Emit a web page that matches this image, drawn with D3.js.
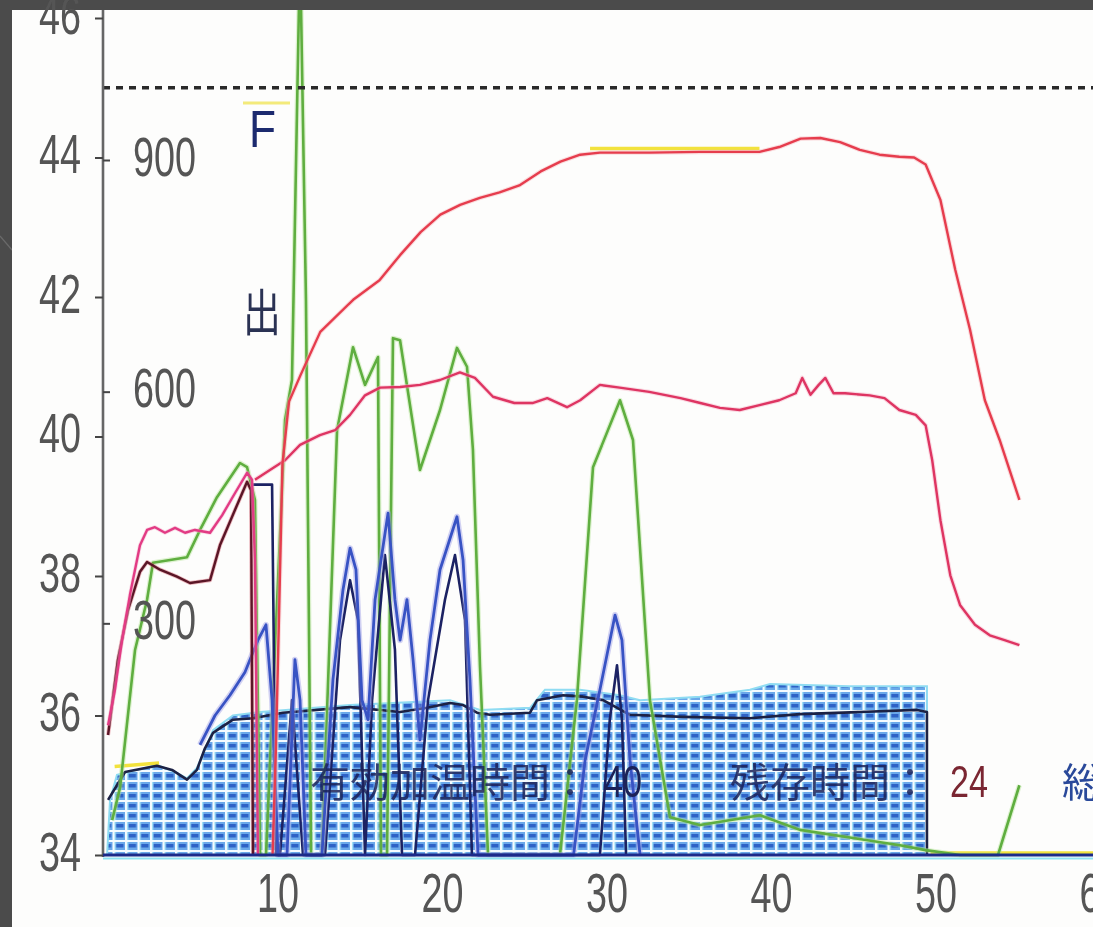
<!DOCTYPE html>
<html><head><meta charset="utf-8">
<script src="https://cdn.jsdelivr.net/npm/d3@7"></script>
<style>html,body{margin:0;padding:0;background:#4b4b4b;overflow:hidden}svg{display:block}</style>
</head><body>
<svg id="c" width="1093" height="927"></svg>
<script>
// ---------- data (time in minutes, temperature in °C, output on the inner scale) ----------
const xTicks = [10, 20, 30, 40, 50, 60];
const tempTicks = [34, 36, 38, 40, 42, 44, 46];
const outputTicks = [300, 600, 900];
const limitTemp = 45;

const redTop = [[9.7,34.0],[9.9,35.5],[10.1,37.5],[10.3,39.6],[10.7,40.5],[11.4,40.88],[12.6,41.5],[14.6,41.96],[16.2,42.24],[17.45,42.6],[18.7,42.93],[19.9,43.18],[21.1,43.32],[22.3,43.42],[23.5,43.5],[24.7,43.6],[26.0,43.8],[27.2,43.94],[28.4,44.04],[29.6,44.07],[32.6,44.07],[35.7,44.08],[39.3,44.08],[40.5,44.15],[41.8,44.27],[43.0,44.28],[44.2,44.22],[45.4,44.11],[46.6,44.04],[47.8,44.01],[48.7,44.0],[49.4,43.9],[50.3,43.39],[51.2,42.39],[52.1,41.53],[53.0,40.52],[53.9,39.95],[54.5,39.52],[55.1,39.09]];

const redLow = [[8.63,39.38],[9.54,39.52],[10.46,39.66],[11.37,39.88],[12.58,40.02],[13.5,40.09],[14.41,40.31],[15.32,40.59],[16.23,40.7],[17.45,40.71],[18.66,40.74],[19.88,40.81],[21.09,40.92],[22.0,40.84],[23.1,40.57],[24.4,40.48],[25.5,40.48],[26.4,40.55],[27.6,40.42],[28.4,40.52],[29.6,40.74],[30.8,40.7],[32.6,40.64],[34.5,40.55],[35.7,40.48],[36.9,40.41],[38.1,40.38],[39.3,40.45],[40.5,40.52],[41.5,40.62],[41.9,40.84],[42.4,40.6],[42.9,40.74],[43.3,40.84],[43.8,40.62],[44.5,40.62],[46.0,40.59],[46.9,40.55],[47.8,40.38],[48.8,40.31],[49.4,40.16],[49.8,39.66],[50.3,38.8],[50.9,38.01],[51.5,37.58],[52.4,37.3],[53.3,37.15],[54.2,37.08],[55.1,37.01]];

const pinkStart = [[-0.3,35.86],[0.12,36.37],[0.55,37.08],[1.03,37.73],[1.64,38.44],[2.07,38.66],[2.55,38.7],[3.16,38.62],[3.77,38.69],[4.38,38.62],[4.98,38.66],[5.9,38.62],[6.63,38.87],[7.42,39.19],[8.15,39.48],[8.45,39.38],[8.63,38.23],[8.81,34.0]];

const maroon = [[-0.3,35.72],[0.3,36.8],[0.91,37.51],[1.64,38.06],[2.07,38.2],[2.86,38.09],[3.89,37.99],[4.68,37.9],[5.9,37.94],[6.5,38.44],[7.42,38.95],[8.15,39.35],[8.39,39.23],[8.51,34.0]];

const green = [[-0.05,34.5],[0.43,34.97],[1.34,36.94],[2.07,37.66],[2.43,38.19],[3.47,38.23],[4.5,38.27],[5.29,38.66],[6.32,39.13],[7.72,39.62],[8.15,39.56],[8.63,39.09],[8.94,34.0],[9.3,34.0],[10.46,40.24],[10.88,40.81],[11.37,47.0],[11.73,41.96],[12.04,34.0],[12.7,34.0],[13.62,40.09],[14.59,41.28],[15.32,40.74],[16.11,41.14],[16.29,34.0],[16.66,34.0],[17.02,41.41],[17.45,41.38],[18.66,39.52],[19.88,40.38],[20.91,41.27],[21.52,41.0],[21.88,39.81],[22.31,36.7],[22.8,34.0],[27.17,34.0],[28.2,36.22],[29.18,39.56],[30.82,40.52],[31.61,39.95],[32.64,36.22],[33.86,34.54],[35.68,34.43],[39.33,34.57],[41.76,34.36],[47.84,34.14],[49.4,34.07],[51.5,34.0],[53.8,34.0],[55.1,35.0]];

const blue = [[5.29,35.58],[6.2,36.0],[7.11,36.29],[8.02,36.62],[8.81,37.08],[9.3,37.3],[9.67,36.22],[10.03,34.0],[10.58,34.0],[11.06,36.8],[11.37,36.22],[11.73,34.0],[12.7,34.0],[13.37,36.51],[13.98,37.8],[14.41,38.4],[14.77,38.09],[15.14,36.22],[15.5,35.94],[15.93,37.66],[16.72,38.9],[17.14,37.66],[17.45,37.08],[17.87,37.66],[18.24,36.8],[18.66,35.65],[19.27,37.08],[19.88,38.09],[20.91,38.85],[21.28,38.23],[21.7,36.51],[22.19,34.0],[28.0,34.0],[28.7,35.36],[29.6,36.37],[30.52,37.44],[30.94,37.08],[31.43,35.36],[32.04,34.0]];

const navy = [[8.51,39.31],[9.67,39.31],[9.91,34.0],[10.15,34.0],[10.88,36.22],[11.55,34.0],[12.89,34.0],[13.8,37.08],[14.41,37.94],[14.89,37.37],[15.32,34.0],[15.75,36.22],[16.53,38.3],[17.14,36.94],[17.57,34.0],[18.36,34.0],[19.15,36.22],[20.18,37.66],[20.79,38.3],[21.4,37.37],[21.82,34.0],[29.6,34.0],[30.2,35.94],[30.64,36.72],[30.94,35.94],[31.19,34.0]];

const baseLine = [[-0.3,34.79],[0.24,35.0],[0.73,35.19],[2.67,35.28],[3.59,35.22],[4.5,35.08],[5.1,35.22],[5.59,35.53],[6.08,35.75],[7.29,35.94],[8.51,35.96],[10.33,36.04],[14.41,36.12],[17.45,36.05],[19.09,36.11],[20.49,36.18],[21.28,36.15],[22.13,36.04],[22.92,36.01],[25.35,36.04],[25.78,36.22],[27.36,36.29],[28.57,36.27],[29.79,36.22],[31.43,36.01],[34.65,35.98],[38.72,35.96],[41.76,36.02],[45.41,36.05],[48.88,36.08],[49.48,36.05],[49.48,34.0]];

const outputArea = [[-0.36,34.0],[-0.18,34.79],[0.24,35.15],[2.67,35.29],[3.77,35.19],[4.5,35.1],[5.1,35.25],[6.08,35.79],[7.29,36.0],[8.94,36.05],[14.41,36.15],[20.49,36.22],[22.31,36.08],[25.35,36.11],[26.26,36.37],[28.39,36.37],[30.82,36.29],[32.04,36.22],[35.68,36.27],[38.72,36.37],[39.94,36.45],[44.8,36.42],[49.48,36.42],[49.48,34.0]];

const yellow = [[0.1,35.27],[2.8,35.32],null,[29.0,44.13],[39.3,44.13],null,[49.7,34.03],[60.5,34.03]];

const labelA = "有効加温時間：", valueA = "40";
const labelB = "残存時間：", valueB = "24";

// ---------- drawing ----------
const W = 1093, H = 927;
const svg = d3.select("#c");
const x = d3.scaleLinear().domain([0, 60]).range([113, 1100]);
const y = d3.scaleLinear().domain([34, 46]).range([855, 18]);
const y2 = d3.scaleLinear().domain([0, 900]).range([855, 160]);

const defs = svg.append("defs");
const pat = defs.append("pattern").attr("id","hatch").attr("patternUnits","userSpaceOnUse")
  .attr("width",12.5).attr("height",10);
pat.append("rect").attr("width",12.5).attr("height",10).attr("fill","#6aa8ea");
pat.append("rect").attr("x",3.5).attr("y",4).attr("width",7.5).attr("height",3.5).attr("fill","#2d62c6");
pat.append("rect").attr("x",0).attr("y",0).attr("width",2).attr("height",10).attr("fill","#f4fbff");
pat.append("rect").attr("x",0).attr("y",0).attr("width",12.5).attr("height",2).attr("fill","#f4fbff");
pat.append("rect").attr("x",2).attr("y",2).attr("width",1.2).attr("height",8).attr("fill","#a8e8f8");
defs.append("clipPath").attr("id","plot").append("rect").attr("x",104).attr("y",10).attr("width",989).attr("height",849);
const flt = defs.append("filter").attr("id","soft");
flt.append("feGaussianBlur").attr("stdDeviation",0.55);

svg.append("rect").attr("width",W).attr("height",H).attr("fill","#4b4b4b");
svg.append("line").attr("x1",0).attr("y1",236).attr("x2",12).attr("y2",250).attr("stroke","#6a6a6a").attr("stroke-width",1.2);
svg.append("rect").attr("x",12).attr("y",10).attr("width",W-12).attr("height",H-10).attr("fill","#fdfdfc");

const g = svg.append("g").attr("filter","url(#soft)");
const plot = g.append("g").attr("clip-path","url(#plot)");

const line = d3.line().defined(d => d != null).x(d => x(d[0])).y(d => y(d[1]));
const area = d3.area().x(d => x(d[0])).y0(y(34)).y1(d => y(d[1]));

plot.append("path").datum(outputArea).attr("d", area).attr("fill","url(#hatch)");
plot.append("path").datum(outputArea).attr("d", line).attr("fill","none").attr("stroke","#8fdcf2").attr("stroke-width",2);

function drawLine(data, color, w, halo, haloW) {
  if (halo) plot.append("path").datum(data).attr("d", line).attr("fill","none")
    .attr("stroke", halo).attr("stroke-width", haloW).attr("stroke-opacity",0.45).attr("stroke-linejoin","round");
  plot.append("path").datum(data).attr("d", line).attr("fill","none")
    .attr("stroke", color).attr("stroke-width", w).attr("stroke-linejoin","round");
}
drawLine(yellow, "#f2e23c", 3.5);
drawLine(baseLine, "#1c2144", 2.6);
drawLine(green, "#5fae3f", 2.6, "#b5e59a", 5);
drawLine(navy, "#1b2363", 2.6);
drawLine(blue, "#3953c4", 2.8, "#9b9be6", 6);
drawLine(maroon, "#5a1626", 2.4, "#d4606e", 4);
drawLine(pinkStart, "#e23b84", 2.4, "#f5a8c8", 4);
drawLine(redLow, "#de3462", 2.4, "#f6b0c4", 4.5);
drawLine(redTop, "#e63c4e", 2.4, "#f7b3b8", 4.5);

// axis lines and limit
g.append("line").attr("x1",103).attr("x2",W).attr("y1",y(limitTemp)).attr("y2",y(limitTemp))
  .attr("stroke","#2a2a2a").attr("stroke-width",3.4).attr("stroke-dasharray","7 6");
g.append("line").attr("x1",103).attr("x2",W).attr("y1",858.5).attr("y2",858.5).attr("stroke","#8fe3f3").attr("stroke-width",2);

const numFont = "'Liberation Sans', Arial, sans-serif";
const axL = g.append("g").attr("transform","translate(103,0)")
  .call(d3.axisLeft(y).tickValues(tempTicks).tickSize(8).tickFormat(d3.format("d")));
axL.select(".domain").attr("stroke","#666").attr("stroke-width",2.6).attr("d","M0,10V857");
axL.selectAll(".tick line").attr("stroke","#444").attr("stroke-width",2);
axL.selectAll(".tick text").attr("x",0).attr("dy",null).attr("y",0)
  .attr("transform","translate(-22,15) scale(0.9,1.3)")
  .attr("font-family",numFont).attr("font-size",42).attr("fill","#555").attr("text-anchor","end");

const axR = g.append("g").attr("transform","translate(103,0)")
  .call(d3.axisRight(y2).tickValues(outputTicks).tickSize(7).tickFormat(d3.format("d")));
axR.select(".domain").remove();
axR.selectAll(".tick line").attr("stroke","#444").attr("stroke-width",2);
axR.selectAll(".tick text").attr("x",0).attr("dy",null).attr("y",0)
  .attr("transform","translate(30,15) scale(0.9,1.3)")
  .attr("font-family",numFont).attr("font-size",42).attr("fill","#555").attr("text-anchor","start");

const axB = g.append("g").attr("transform","translate(0,855)")
  .call(d3.axisBottom(x).tickValues(xTicks).tickSize(0).tickFormat(d3.format("d")));
axB.select(".domain").attr("stroke","#1d2c8a").attr("stroke-width",3).attr("d","M103,0H1093");
axB.selectAll(".tick text").attr("y",0).attr("dy",null)
  .attr("transform","translate(0,57) scale(0.9,1.3)")
  .attr("font-family",numFont).attr("font-size",42).attr("fill","#555");

// annotations
const cjk = "'Noto Sans CJK JP', 'Noto Sans CJK SC', sans-serif";
g.append("line").attr("x1",243).attr("x2",290).attr("y1",103).attr("y2",103).attr("stroke","#f3ea7a").attr("stroke-width",3);
g.append("text").attr("transform","translate(249,147) scale(0.85,1)").attr("font-family",numFont)
  .attr("font-size",52).attr("fill","#1c2a6e").text("F");
g.append("text").attr("transform","translate(243,331) scale(0.9,1.2)").attr("font-family",cjk)
  .attr("font-size",42).attr("fill","#2a3052").text("出");
g.append("text").attr("x",590).attr("y",797).attr("text-anchor","end").attr("font-family",cjk)
  .attr("font-size",40).attr("fill","#1a2258").attr("fill-opacity",0.85).text(labelA);
g.append("text").attr("transform","translate(604,797) scale(0.95,1.25)").attr("font-family",numFont)
  .attr("font-size",36).attr("fill","#1a2258").text(valueA);
g.append("text").attr("x",930).attr("y",797).attr("text-anchor","end").attr("font-family",cjk)
  .attr("font-size",40).attr("fill","#1a2258").attr("fill-opacity",0.85).text(labelB);
g.append("text").attr("transform","translate(950,797) scale(0.95,1.25)").attr("font-family",numFont)
  .attr("font-size",36).attr("fill","#7a2630").text(valueB);
g.append("text").attr("x",1062).attr("y",797).attr("font-family",cjk)
  .attr("font-size",40).attr("fill","#2a4a9a").text("総");
</script>
</body></html>
